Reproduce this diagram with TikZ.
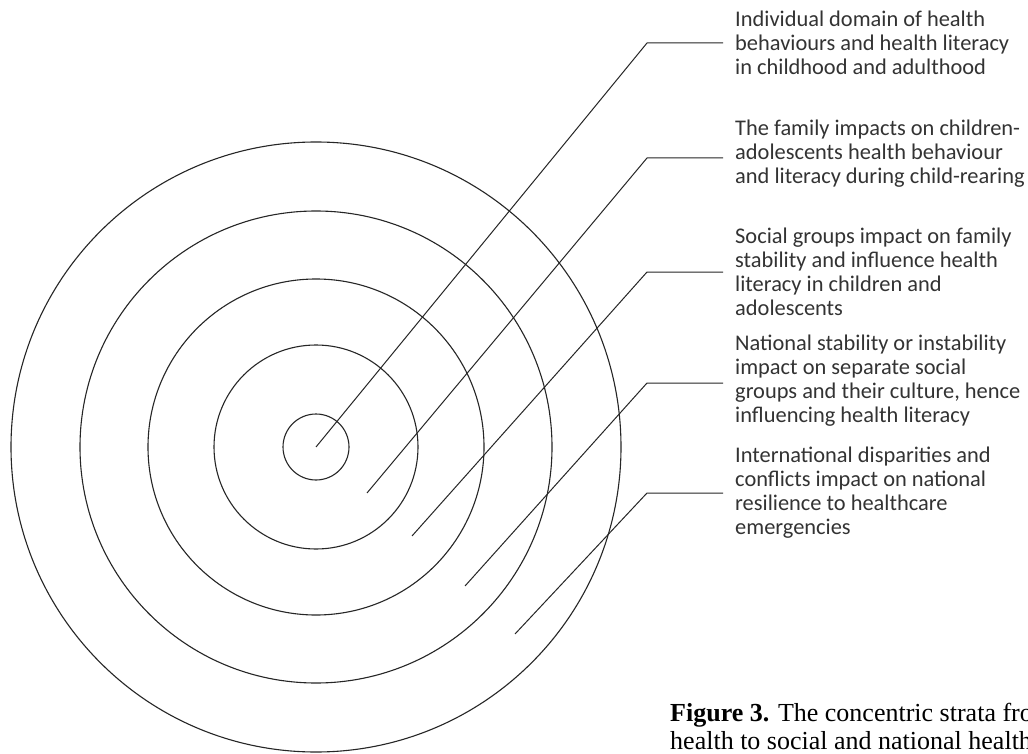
\documentclass[tikz,border=0pt]{standalone}
\usepackage{fontspec}
\setmainfont{Carlito}
\newfontfamily\capfont{Liberation Serif}
\begin{document}
\begin{tikzpicture}[x=1pt,y=-1pt,
  ring/.style={draw=black!85, line width=1.1pt, circle, inner sep=0pt},
  leader/.style={draw=black!85, line width=1pt},
  lbl/.style={anchor=base west, inner sep=0pt, align=left, text=black!80,
    font=\fontsize{22.4}{24}\selectfont},
  captext/.style={anchor=base west, inner sep=0pt, align=left, text=black,
    font=\capfont\fontsize{26}{28}\selectfont}]
\useasboundingbox (0,0) rectangle (1028,754);
\clip (0,0) rectangle (1028,754);
\fill[white] (0,0) rectangle (1028,754);
% concentric rings
\node[ring, minimum size=66pt]  (r1) at (316,447) {};
\node[ring, minimum size=204pt] (r2) at (316,447) {};
\node[ring, minimum size=336pt] (r3) at (316,447) {};
\node[ring, minimum size=472pt] (r4) at (316,447) {};
\node[ring, minimum size=610pt] (r5) at (316,447) {};
% labels (anchored at the baseline of their last line)
\node[lbl] (t1) at (735,75) {Individual domain of health\\behaviours and health literacy\\in childhood and adulthood};
\node[lbl] (t2) at (735,184) {The family impacts on children-\\adolescents health behaviour\\and literacy during child-rearing};
\node[lbl] (t3) at (735,315) {Social groups impact on family\\stability and influence health\\literacy in children and\\adolescents};
\node[lbl] (t4) at (735,422) {National stability or instability\\impact on separate social\\groups and their culture, hence\\influencing health literacy};
\node[lbl] (t5) at (735,534) {International disparities and\\conflicts impact on national\\resilience to healthcare\\emergencies};
% leader points
\coordinate (s1) at (316,447); \coordinate (c1) at (647,43);  \coordinate (e1) at (723,43);
\coordinate (s2) at (367,493); \coordinate (c2) at (647,158); \coordinate (e2) at (723,158);
\coordinate (s3) at (412,536); \coordinate (c3) at (647,272); \coordinate (e3) at (723,272);
\coordinate (s4) at (465,586); \coordinate (c4) at (647,383); \coordinate (e4) at (723,383);
\coordinate (s5) at (515,634); \coordinate (c5) at (647,493); \coordinate (e5) at (723,493);
\draw[leader] (s1) -- (c1) -- (e1);
\draw[leader] (s2) -- (c2) -- (e2);
\draw[leader] (s3) -- (c3) -- (e3);
\draw[leader] (s4) -- (c4) -- (e4);
\draw[leader] (s5) -- (c5) -- (e5);
% caption (cut by the right edge, as in the reference)
\node[captext] (capt) at (670,749) {\textbf{Figure 3.} The concentric strata from\\health to social and national health};
\end{tikzpicture}
\end{document}
